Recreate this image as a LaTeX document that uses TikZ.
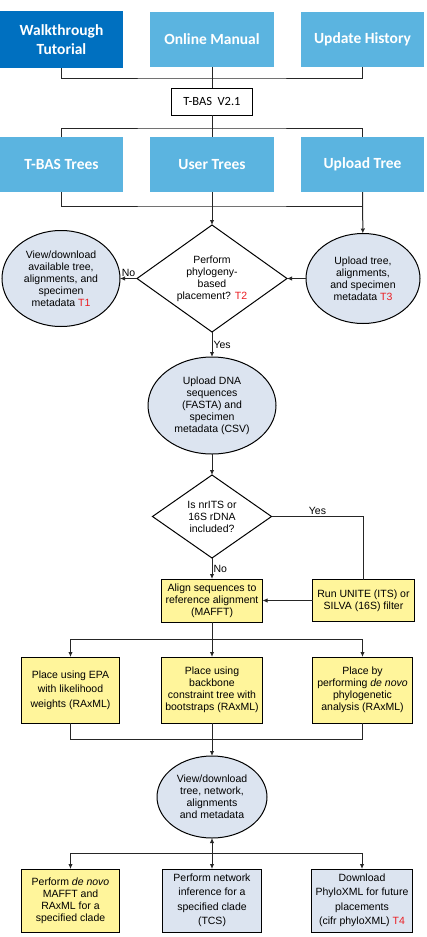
\documentclass[tikz,border=0pt]{standalone}
\usepackage{fontspec}
\setmainfont{Liberation Sans}
\newfontfamily\calibri{Carlito}
\usepackage{xcolor}
\usepackage{tikz}
\usetikzlibrary{arrows.meta,positioning}
\usetikzlibrary{shapes}

\definecolor{tutblue}{RGB}{0,112,192}
\definecolor{skyblue}{RGB}{91,180,224}
\definecolor{mist}{RGB}{220,228,240}
\definecolor{pale}{RGB}{255,245,155}
\definecolor{tagred}{RGB}{235,30,35}
\newcommand{\tagT}[1]{\textcolor{tagred}{#1}}

\begin{document}
\begin{tikzpicture}[
                every node/.style={font=\fontsize{10.5}{12}\selectfont, outer sep=0pt},
                topbox/.style={fill=skyblue, text=white, align=center, inner sep=2pt, minimum width=123pt, minimum height=55pt, font=\calibri\bfseries\fontsize{15.5}{19.5}\selectfont},
                verbox/.style={draw, line width=1pt, fill=white, minimum width=81pt, minimum height=27pt, inner sep=2pt, font=\calibri\fontsize{12.5}{14}\selectfont},
                ovalnode/.style={ellipse, draw, line width=1pt, fill=mist, align=center, inner sep=0pt},
                choice/.style={diamond, draw, line width=1pt, fill=white, align=center, inner sep=0pt, aspect=1.42},
                stepbox/.style={draw, line width=0.9pt, fill=pale, align=center, inner sep=2pt, minimum height=66pt},
                infobox/.style={stepbox, fill=mist},
                widelines/.style={font=\fontsize{10.5}{14.5}\selectfont},
                wire/.style={line width=1pt, draw=black!85},
                rel/.style={wire, -{Latex[length=5pt,width=4.5pt]}},
                edgelabel/.style={inner sep=1.5pt}
            ]
                \useasboundingbox (0,0) rectangle (426pt,-937pt);

                % Help pages on top, T-BAS version below them
                \node[topbox, fill=tutblue, minimum height=57pt] (walk) at (61.5pt,-39.5pt) {Walkthrough\\Tutorial};
                \node[topbox, right=27pt of walk, minimum width=124pt] (manual) {Online Manual};
                \node[topbox, right=27pt of manual] (history) {Update History};
                \node[verbox, below=21pt of manual] (tbas) {T-BAS\ \ V2.1};

                % Tree sources
                \node[topbox, below=22pt of tbas, minimum width=124pt] (usertrees) {User Trees};
                \node[topbox, left=27pt of usertrees] (trees) {T-BAS Trees};
                \node[topbox, right=27pt of usertrees] (upload) {Upload Tree};

                % Placement question with its two outcomes
                \node[choice, below=33pt of usertrees, minimum width=150pt, minimum height=107pt] (d1) {Perform\\phylogeny-\\based\\placement? \tagT{T2}};
                \node[ovalnode, left=17pt of d1, minimum width=118pt, minimum height=96pt] (t1) {View/download\\available tree,\\alignments, and\\specimen\\metadata \tagT{T1}};
                \node[ovalnode, right=19pt of d1, minimum width=114pt, minimum height=90pt] (t3) {Upload tree,\\alignments,\\and specimen\\metadata \tagT{T3}};

                % Upload and marker check
                \node[ovalnode, below=25pt of d1, minimum width=128pt, minimum height=97pt] (dna) {Upload DNA\\sequences\\(FASTA) and\\specimen\\metadata (CSV)};
                \node[choice, below=21pt of dna, minimum width=119pt, minimum height=83pt] (d2) {Is nrITS or\\16S rDNA\\included?};
                \node[stepbox, below=21pt of d2, minimum width=101pt, minimum height=43pt] (align) {Align sequences to\\reference alignment\\(MAFFT)};
                \node[stepbox, right=50pt of align, minimum width=102pt, minimum height=42pt] (unite) {Run UNITE (ITS) or\\SILVA (16S) filter};

                % Three placement methods
                \node[stepbox, below=35pt of align, minimum width=101pt] (backbone) {Place using\\backbone\\constraint tree with\\bootstraps (RAxML)};
                \node[stepbox, widelines, left=42pt of backbone, minimum width=98pt] (epa) {Place using EPA\\with likelihood\\weights (RAxML)};
                \node[stepbox, right=50pt of backbone, minimum width=100pt] (denovo) {Place by\\performing \textit{de novo}\\phylogenetic\\analysis (RAxML)};

                % Results and follow-up analyses
                \node[ovalnode, below=33pt of backbone, minimum width=110pt, minimum height=82pt] (view) {View/download\\tree, network,\\alignments\\and metadata};
                \node[infobox, widelines, below=31pt of view, minimum width=99pt, minimum height=63pt] (tcs) {Perform network\\inference for a\\specified clade\\(TCS)};
                \node[stepbox, left=43pt of tcs, minimum width=98pt, minimum height=63pt] (mafft) {Perform \textit{de novo}\\MAFFT and\\RAxML for a\\specified clade};
                \node[infobox, widelines, right=50pt of tcs, minimum width=101pt, minimum height=63pt] (phylo) {Download\\PhyloXML for future\\placements\\(cifr phyloXML) \tagT{T4}};

                % Connectors around T-BAS
                \draw[wire] (walk.south) |- ([yshift=-11pt]manual.south) -| (history.south);
                \draw[wire] (manual) -- (tbas);
                \draw[wire] (trees.north) |- ([yshift=9pt]usertrees.north) -| (upload.north);
                \draw[wire] (tbas) -- (usertrees);
                \draw[wire] (trees.south) |- ([yshift=-14pt]usertrees.south) -| (upload.south);
                \draw[rel] (usertrees) -- (d1);
                \draw[rel] (upload) -- (t3);

                % Decision arrows
                \draw[rel] (d1) -- node[edgelabel, above]{No} (t1);
                \draw[rel] (t3) -- (d1);
                \draw[rel] (d1) -- node[edgelabel, right]{Yes} (dna);
                \draw[rel] (dna) -- (d2);
                \draw[rel] (d2) -- node[edgelabel, right]{No} (align);
                \draw[wire] (d2.east) -| node[edgelabel, above, pos=0.25]{Yes} (unite.north);
                \draw[rel] (unite) -- (align);

                % Fan out to placement methods and back
                \draw[rel] (align) -- (backbone);
                \draw[rel] ([yshift=-17pt]align.south) -| (epa);
                \draw[rel] ([yshift=-17pt]align.south) -| (denovo);
                \draw[wire] (epa.south) |- ([yshift=-16pt]backbone.south) -| (denovo.south);
                \draw[rel] (backbone) -- (view);

                % Follow-up analyses
                \draw[rel, {Latex[length=5pt,width=4.5pt]}-{Latex[length=5pt,width=4.5pt]}] (view) -- (tcs);
                \draw[rel] ([yshift=-15pt]view.south) -| (mafft);
                \draw[rel] ([yshift=-15pt]view.south) -| (phylo);

            \end{tikzpicture}
\end{document}
